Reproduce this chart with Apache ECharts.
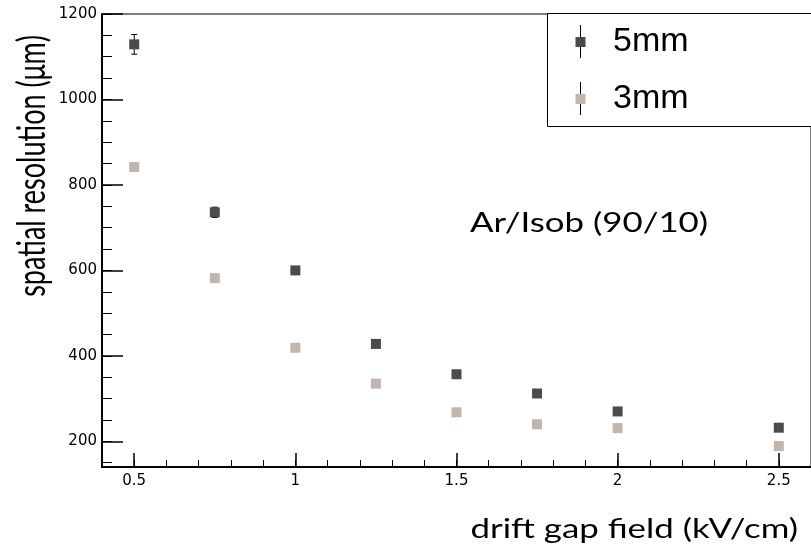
<!DOCTYPE html>
<html>
<head>
<meta charset="utf-8">
<style>
  html, body { margin: 0; padding: 0; background: #fff; }
  #chart { width: 811px; height: 548px; }
</style>
<script src="https://cdn.jsdelivr.net/npm/echarts@6/dist/echarts.min.js"></script>
</head>
<body>
<div id="chart"></div>
<script>
// Drift field settings (kV/cm)
const driftField = [0.5, 0.75, 1.0, 1.25, 1.5, 1.75, 2.0, 2.5];

// Spatial resolution (um) and uncertainties for the two gap sizes
const res5mm = [1129, 736, 600, 428, 357, 312, 270, 232];
const err5mm = [23, 12, 4, 4, 4, 4, 4, 4];
const res3mm = [842, 582, 419, 335, 268, 240, 231, 189];
const err3mm = [4, 4, 4, 4, 4, 4, 4, 4];

// Axis ticks
const xMajorTicks = [0.5, 1, 1.5, 2, 2.5];
const xMinorTicks = [0.5, 0.6, 0.7, 0.8, 0.9, 1.0, 1.1, 1.2, 1.3, 1.4, 1.5, 1.6, 1.7, 1.8, 1.9, 2.0, 2.1, 2.2, 2.3, 2.4, 2.5];
const yMajorTicks = [200, 400, 600, 800, 1000, 1200];
const yMinorTicks = [150, 200, 250, 300, 350, 400, 450, 500, 550, 600, 650, 700, 750, 800, 850, 900, 950, 1000, 1050, 1100, 1150, 1200];

const seriesNames = ['5mm', '3mm'];
const colors = ['#4b4b4b', '#c0b6ad'];

const chart = echarts.init(document.getElementById('chart'));

function pointsOf(vals, errs) {
  return driftField.map((x, i) => [x, vals[i], errs[i]]);
}

function errorBar(params, api) {
  const x = api.value(0), y = api.value(1), e = api.value(2);
  const top = api.coord([x, y + e]);
  const bot = api.coord([x, y - e]);
  const cap = 3;
  const style = { stroke: '#000', lineWidth: 1 };
  return {
    type: 'group',
    children: [
      { type: 'line', shape: { x1: top[0], y1: top[1], x2: bot[0], y2: bot[1] }, style },
      { type: 'line', shape: { x1: top[0] - cap, y1: top[1], x2: top[0] + cap, y2: top[1] }, style },
      { type: 'line', shape: { x1: bot[0] - cap, y1: bot[1], x2: bot[0] + cap, y2: bot[1] }, style }
    ]
  };
}

const tickFont = { fontFamily: 'DejaVu Sans', fontSize: 15, color: '#000', formatter: v => String(v) };
const titleFont = '27px Lato';
const wide = 1.29; // titles are drawn horizontally widened

const option = {
  animation: false,
  backgroundColor: '#fff',
  grid: {
    left: 102, right: -2, top: 14, bottom: 81,
    show: true, borderColor: '#000', borderWidth: 1, backgroundColor: 'transparent'
  },
  xAxis: [
    {
      type: 'value', min: 0.4, max: 2.6, position: 'bottom',
      axisLine: { show: true, lineStyle: { color: '#000', width: 2 } },
      axisTick: { show: true, inside: true, length: 14, customValues: xMajorTicks, lineStyle: { color: '#000', width: 1.5 } },
      axisLabel: Object.assign({ customValues: xMajorTicks, margin: 7 }, tickFont),
      splitLine: { show: false }
    },
    {
      type: 'value', min: 0.4, max: 2.6, position: 'bottom',
      axisLine: { show: false },
      axisTick: { show: true, inside: true, length: 7, customValues: xMinorTicks, lineStyle: { color: '#000', width: 1 } },
      axisLabel: { show: false },
      splitLine: { show: false }
    }
  ],
  yAxis: [
    {
      type: 'value', min: 140, max: 1200, position: 'left',
      axisLine: { show: true, lineStyle: { color: '#000', width: 2 } },
      axisTick: { show: true, inside: true, length: 21, customValues: yMajorTicks, lineStyle: { color: '#000', width: 1.5 } },
      axisLabel: Object.assign({ customValues: yMajorTicks, margin: 5 }, tickFont),
      splitLine: { show: false }
    },
    {
      type: 'value', min: 140, max: 1200, position: 'left',
      axisLine: { show: false },
      axisTick: { show: true, inside: true, length: 10, customValues: yMinorTicks, lineStyle: { color: '#000', width: 1 } },
      axisLabel: { show: false },
      splitLine: { show: false }
    }
  ],
  series: [
    {
      name: '5mm err', type: 'custom', renderItem: errorBar, data: pointsOf(res5mm, err5mm),
      xAxisIndex: 0, yAxisIndex: 0, z: 2, silent: true
    },
    {
      name: '3mm err', type: 'custom', renderItem: errorBar, data: pointsOf(res3mm, err3mm),
      xAxisIndex: 0, yAxisIndex: 0, z: 2, silent: true
    },
    {
      name: seriesNames[0], type: 'scatter', symbol: 'rect', symbolSize: 10,
      itemStyle: { color: colors[0], opacity: 1 }, data: pointsOf(res5mm, err5mm),
      xAxisIndex: 0, yAxisIndex: 0, z: 3
    },
    {
      name: seriesNames[1], type: 'scatter', symbol: 'rect', symbolSize: 10,
      itemStyle: { color: colors[1], opacity: 1 }, data: pointsOf(res3mm, err3mm),
      xAxisIndex: 0, yAxisIndex: 0, z: 3
    }
  ],
  graphic: [
    // legend box
    { type: 'rect', z: 10, shape: { x: 547.5, y: 13.5, width: 300, height: 113 }, style: { fill: '#fff', stroke: '#000', lineWidth: 1 } },
    { type: 'line', z: 11, shape: { x1: 580.5, y1: 25, x2: 580.5, y2: 58 }, style: { stroke: '#000', lineWidth: 1 } },
    { type: 'rect', z: 12, shape: { x: 575.5, y: 37, width: 10, height: 10 }, style: { fill: colors[0] } },
    { type: 'text', z: 12, x: 613, y: 42, style: { text: seriesNames[0], font: '34px "Liberation Sans"', fill: '#000', textAlign: 'left', textVerticalAlign: 'middle' } },
    { type: 'line', z: 11, shape: { x1: 580.5, y1: 82, x2: 580.5, y2: 115 }, style: { stroke: '#000', lineWidth: 1 } },
    { type: 'rect', z: 12, shape: { x: 575.5, y: 94, width: 10, height: 10 }, style: { fill: colors[1] } },
    { type: 'text', z: 12, x: 613, y: 99, style: { text: seriesNames[1], font: '34px "Liberation Sans"', fill: '#000', textAlign: 'left', textVerticalAlign: 'middle' } },
    // gas mixture annotation
    { type: 'text', z: 12, x: 470, y: 223, scaleX: wide, style: { text: 'Ar/Isob (90/10)', font: titleFont, fill: '#000', textAlign: 'left', textVerticalAlign: 'middle' } },
    // axis titles
    { type: 'text', z: 12, x: 798, y: 529, scaleX: wide, style: { text: 'drift gap field (kV/cm)', font: titleFont, fill: '#000', textAlign: 'right', textVerticalAlign: 'middle' } },
    { type: 'text', z: 12, x: 33, y: 35, rotation: Math.PI / 2, scaleY: 1.42, style: { text: 'spatial resolution (μm)', font: titleFont, fill: '#000', textAlign: 'right', textVerticalAlign: 'middle' } }
  ]
};

chart.setOption(option);
</script>
</body>
</html>
